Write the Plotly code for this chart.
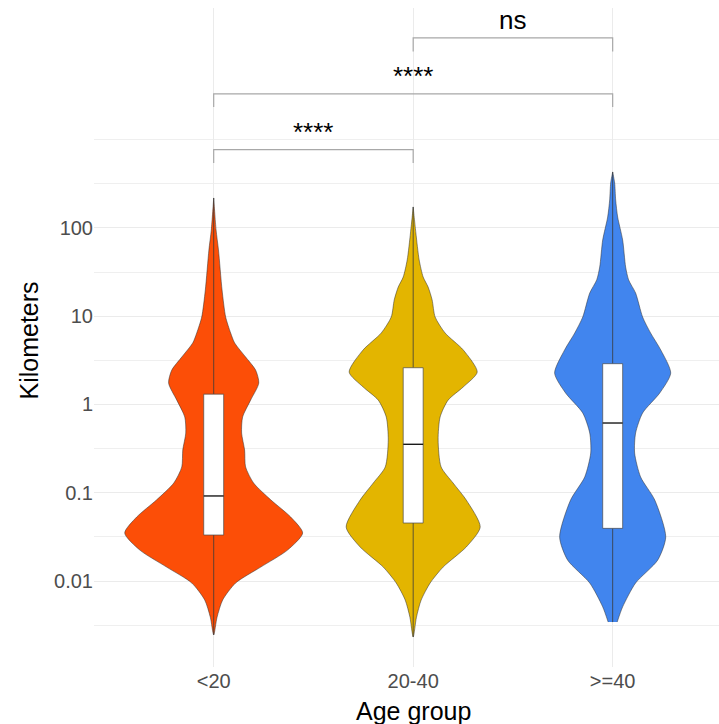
import numpy as np
import plotly.graph_objects as go

# ---------------- data ----------------
groups = ["<20", "20-40", ">=40"]
colors = ["#FC4E07", "#E3B500", "#4185EE"]

# violin profiles: km level (bottom -> top) and half-width (category units)
km_lt20 = [0.00245, 0.0039, 0.0061, 0.0095, 0.0144, 0.0224, 0.035, 0.0531, 0.0828,
           0.129, 0.196, 0.305, 0.475, 0.722, 1.12, 1.75, 2.46, 3.45, 4.98, 6.46,
           9.8, 19.8, 56.4, 94.9, 218.6]
hw_lt20 = [0, 0.017, 0.045, 0.11, 0.236, 0.37, 0.446, 0.386, 0.287,
           0.2, 0.16, 0.155, 0.14, 0.145, 0.185, 0.226, 0.21, 0.16, 0.105, 0.085,
           0.06, 0.042, 0.024, 0.012, 0]

km_2040 = [0.00232, 0.0039, 0.0061, 0.0095, 0.0144, 0.0243, 0.0409, 0.0828, 0.129,
           0.196, 0.396, 0.722, 1.12, 1.58, 2.33, 4.15, 6.46, 9.8, 15.3, 21.4,
           27.8, 43.4, 87.8, 173]
hw_2040 = [0, 0.0165, 0.040, 0.085, 0.150, 0.266, 0.336, 0.266, 0.200,
           0.140, 0.125, 0.135, 0.175, 0.251, 0.321, 0.251, 0.160, 0.110, 0.095, 0.075,
           0.050, 0.030, 0.0135, 0]

km_ge40 = [0.00343, 0.0051, 0.0095, 0.0173, 0.0316, 0.0828, 0.151, 0.282, 0.475,
           0.801, 1.35, 2.27, 4.15, 6.46, 9.8, 18.3, 25.8, 36.1, 73.1, 133,
           208, 323, 431]
hw_ge40 = [0.0226, 0.050, 0.115, 0.226, 0.266, 0.211, 0.140, 0.110, 0.115,
           0.150, 0.236, 0.291, 0.241, 0.190, 0.150, 0.115, 0.080, 0.065, 0.050, 0.025,
           0.015, 0.010, 0]

# box statistics
q1 = [0.0332, 0.0454, 0.0395]
median = [0.092, 0.354, 0.617]
q3 = [1.31, 2.61, 2.90]

# significance comparisons
comp_a = ["<20", "<20", "20-40"]
comp_b = ["20-40", ">=40", ">=40"]
comp_label = ["****", "****", "ns"]
comp_y = [771, 3296, 14220]
comp_tip = [545, 2340, 9950]

y_major = [0.01, 0.1, 1, 10, 100]
y_major_text = ["0.01", "0.1", "1", "10", "100"]
y_minor = [0.00316, 0.0316, 0.316, 3.16, 31.6, 316, 1000]

# ---------------- figure ----------------
FONT = "Liberation Sans, Arial, Helvetica, sans-serif"
fig = go.Figure()

profiles = [(km_lt20, hw_lt20), (km_2040, hw_2040), (km_ge40, hw_ge40)]
box_w = 0.1
for i, (g, (km, hw), col) in enumerate(zip(groups, profiles, colors)):
    xc = i + 1
    xs = [xc + h for h in hw] + [xc - h for h in hw[::-1]]
    ys = list(km) + list(km[::-1])
    # violin
    fig.add_trace(go.Scatter(
        x=xs, y=ys, mode="lines", fill="toself", fillcolor=col,
        line=dict(color="rgba(45,45,45,0.85)", width=0.6, shape="spline", smoothing=0.7),
        hoverinfo="skip", showlegend=False))
    # whiskers (min..q1, q3..max)
    fig.add_trace(go.Scatter(
        x=[xc, xc, None, xc, xc], y=[min(km), q1[i], None, q3[i], max(km)],
        mode="lines", line=dict(color="#3a3a3a", width=0.8),
        hoverinfo="skip", showlegend=False))
    # box
    fig.add_trace(go.Scatter(
        x=[xc - box_w / 2, xc + box_w / 2, xc + box_w / 2, xc - box_w / 2, xc - box_w / 2],
        y=[q1[i], q1[i], q3[i], q3[i], q1[i]],
        mode="lines", fill="toself", fillcolor="white",
        line=dict(color="#4a4a4a", width=0.7),
        hoverinfo="skip", showlegend=False))
    # median
    fig.add_trace(go.Scatter(
        x=[xc - box_w / 2, xc + box_w / 2], y=[median[i], median[i]],
        mode="lines", line=dict(color="#1a1a1a", width=1.4),
        hoverinfo="skip", showlegend=False))

pos = {g: i + 1 for i, g in enumerate(groups)}
for a, b, lab, yv, tip in zip(comp_a, comp_b, comp_label, comp_y, comp_tip):
    xa, xb = pos[a], pos[b]
    fig.add_trace(go.Scatter(
        x=[xa, xa, xb, xb], y=[tip, yv, yv, tip], mode="lines",
        line=dict(color="#A8A8A8", width=1.2),
        hoverinfo="skip", showlegend=False))
    fig.add_annotation(
        x=(xa + xb) / 2, y=np.log10(yv), xref="x", yref="y",
        text=lab, showarrow=False, yanchor="bottom", yshift=1,
        font=dict(family=FONT, size=26, color="black"))

# axis titles
fig.add_annotation(x=2, y=0, xref="x", yref="paper", text="Age group",
                   showarrow=False, yanchor="top", yshift=-28,
                   font=dict(family=FONT, size=25, color="black"))
fig.add_annotation(x=0, y=0.5, xref="paper", yref="paper", text="Kilometers",
                   showarrow=False, textangle=-90, xanchor="center", yanchor="middle",
                   xshift=-65.5, yshift=-3.5,
                   font=dict(family=FONT, size=25, color="black"))

fig.update_layout(
    width=719, height=724,
    margin=dict(l=94, r=0, t=8, b=57),
    plot_bgcolor="white", paper_bgcolor="white",
    font=dict(family=FONT),
    xaxis=dict(range=[0.4, 3.533], tickvals=[1, 2, 3], ticktext=groups,
               showgrid=True, gridcolor="#EBEBEB", gridwidth=1,
               zeroline=False, showline=False, ticks="",
               tickfont=dict(size=20, color="#4D4D4D", family=FONT)),
    yaxis=dict(type="log", range=[-2.974, 4.492], tickvals=y_major, ticktext=y_major_text,
               showgrid=True, gridcolor="#EBEBEB", gridwidth=1,
               minor=dict(tickvals=y_minor, showgrid=True, gridcolor="#EFEFEF", gridwidth=0.8),
               zeroline=False, showline=False, ticks="",
               tickfont=dict(size=20, color="#4D4D4D", family=FONT)),
)

fig.write_html("out.html", config={"displayModeBar": False},
               post_script="document.body.style.margin='0';document.body.style.padding='0';")
